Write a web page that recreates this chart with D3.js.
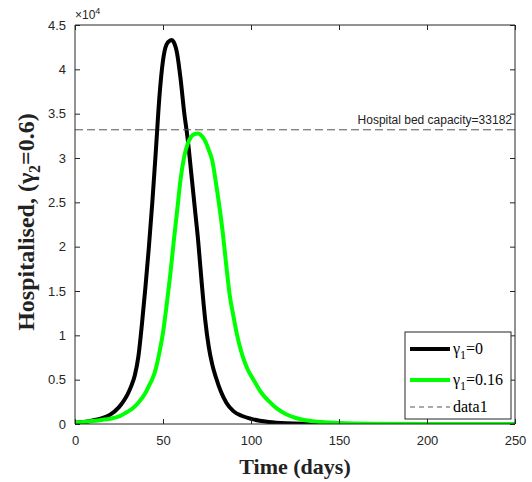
<!DOCTYPE html>
<html><head><meta charset="utf-8">
<script src="https://cdn.jsdelivr.net/npm/d3@7"></script>
<style>body{margin:0;background:#fff}svg{display:block}</style>
</head><body>
<script>
// ---- data ----
const blackDays = [0,5,10,15,20,25,28,30,32,34,36,38,40,42,44,46,48,50,52,54,55,56,58,60,62,64,66,68,70,72,74,76,78,80,83,86,90,95,100,105,110,120,130,150,200,250];
const blackVals = [150,230,400,620,1050,1900,2700,3400,4300,5500,7600,11200,15400,20000,25200,31000,37000,41000,42800,43250,43300,43100,41800,38900,35200,32200,28400,24500,20600,15900,11700,8700,6700,5300,3600,2400,1450,900,580,370,230,80,25,5,0,0];
const greenDays = [0,5,10,15,20,25,30,33,36,40,42,44,46,48,50,52,54,56,58,60,62,64,66,68,70,72,74,76,78,80,82,84,86,88,90,92,95,98,102,106,110,115,120,126,135,150,170,200,250];
const greenVals = [150,220,330,460,600,850,1400,1800,2400,3500,4300,5100,6300,8100,10300,13300,16600,20400,24000,27600,30100,31600,32400,32700,32750,32500,31900,30900,29700,27300,24600,21500,17800,14400,12200,10100,7800,6200,4800,3500,2600,1700,1100,650,300,120,40,10,0];
const xTicks = [0,50,100,150,200,250];
const yTicks = [0,5000,10000,15000,20000,25000,30000,35000,40000,45000];
const yTickLabels = ["0","0.5","1","1.5","2","2.5","3","3.5","4","4.5"];
const capacity = 33182;
const seriesNames = ["0","0.16"];

const W=532,H=482;
const m={l:75,r:515,t:25,b:424};
const svg=d3.select("body").append("svg").attr("width",W).attr("height",H);
const x=d3.scaleLinear().domain([0,250]).range([m.l,m.r]);
const y=d3.scaleLinear().domain([0,45000]).range([m.b,m.t]);
const axisCol="#262626";
const sans="'Liberation Sans', Arial, sans-serif";
const serif="'Liberation Serif', 'Times New Roman', serif";

svg.append("defs").append("clipPath").attr("id","clip").append("rect")
  .attr("x",m.l).attr("y",m.t-3).attr("width",m.r-m.l).attr("height",m.b-m.t+3);

const line=d3.line().x(d=>x(d[0])).y(d=>y(d[1])).curve(d3.curveMonotoneX);
const g=svg.append("g").attr("clip-path","url(#clip)");
g.append("path").datum(blackDays.map((d,i)=>[d,blackVals[i]]))
  .attr("d",line).attr("fill","none").attr("stroke","#000").attr("stroke-width",4).attr("stroke-linejoin","round");
g.append("path").datum(greenDays.map((d,i)=>[d,greenVals[i]]))
  .attr("d",line).attr("fill","none").attr("stroke","#00ff00").attr("stroke-width",4).attr("stroke-linejoin","round");
g.append("line").attr("x1",x(0)).attr("x2",x(250)).attr("y1",y(capacity)).attr("y2",y(capacity))
  .attr("stroke","#555").attr("stroke-width",1).attr("stroke-dasharray","8,4");

svg.append("text").attr("x",x(250)-3).attr("y",y(capacity)-6).attr("text-anchor","end")
  .attr("font-family",sans).attr("font-size",12).attr("fill","#222").text("Hospital bed capacity="+capacity);

// axes
const ax=svg.append("g").attr("transform",`translate(0,${m.b})`)
  .call(d3.axisBottom(x).tickValues(xTicks).tickSize(-5).tickPadding(12));
const axT=svg.append("g").attr("transform",`translate(0,${m.t})`)
  .call(d3.axisTop(x).tickValues(xTicks).tickSize(-5).tickFormat(""));
const ay=svg.append("g").attr("transform",`translate(${m.l},0)`)
  .call(d3.axisLeft(y).tickValues(yTicks).tickSize(-5).tickPadding(9).tickFormat((d,i)=>yTickLabels[i]));
const ayR=svg.append("g").attr("transform",`translate(${m.r},0)`)
  .call(d3.axisRight(y).tickValues(yTicks).tickSize(-5).tickFormat(""));
[ax,axT,ay,ayR].forEach(a=>{
  a.select(".domain").attr("stroke",axisCol).attr("stroke-width",1);
  a.selectAll(".tick line").attr("stroke",axisCol);
  a.selectAll("text").attr("font-family",sans).attr("font-size",13).attr("fill",axisCol);
});
ax.selectAll(".domain").attr("d",`M${m.l},0H${m.r}`);
axT.selectAll(".domain").attr("d",`M${m.l},0H${m.r}`);
ay.selectAll(".domain").attr("d",`M0,${m.b}V${m.t}`);
ayR.selectAll(".domain").attr("d",`M0,${m.b}V${m.t}`);

// exponent
const ex=svg.append("text").attr("x",m.l).attr("y",m.t-6).attr("font-family",sans).attr("font-size",12).attr("fill",axisCol);
ex.append("tspan").text("\u00d710");
ex.append("tspan").attr("font-size",9).attr("dy",-5).text("4");

// axis labels
svg.append("text").attr("x",(m.l+m.r)/2).attr("y",474).attr("text-anchor","middle")
  .attr("font-family",serif).attr("font-weight","bold").attr("font-size",22).attr("fill","#222").text("Time (days)");
const yl=svg.append("text").attr("transform",`translate(34,222) rotate(-90)`).attr("text-anchor","middle")
  .attr("font-family",serif).attr("font-weight","bold").attr("font-size",24).attr("fill","#222");
yl.append("tspan").text("Hospitalised, (\u03b3");
yl.append("tspan").attr("font-size",16).attr("dy",6).text("2");
yl.append("tspan").attr("dy",-6).text("=0.6)");

// legend
const lg=svg.append("g");
lg.append("rect").attr("x",405).attr("y",332).attr("width",106).attr("height",87)
  .attr("fill","#fff").attr("stroke","#262626").attr("stroke-width",1);
const entries=[{c:"#000",w:4,dash:null,y:349,label:seriesNames[0],gam:true},
  {c:"#00ff00",w:4,dash:null,y:380,label:seriesNames[1],gam:true},
  {c:"#555",w:1,dash:"5,4",y:407,label:"data1",gam:false}];
entries.forEach(e=>{
  lg.append("line").attr("x1",410).attr("x2",450).attr("y1",e.y).attr("y2",e.y)
    .attr("stroke",e.c).attr("stroke-width",e.w).attr("stroke-dasharray",e.dash);
  const t=lg.append("text").attr("x",453).attr("y",e.y+5).attr("font-family",serif).attr("font-size",16).attr("fill","#000");
  if(e.gam){
    t.append("tspan").text("\u03b3");
    t.append("tspan").attr("font-size",12).attr("dy",5).text("1");
    t.append("tspan").attr("dy",-5).text("="+e.label);
  } else t.text(e.label);
});
</script>
</body></html>
